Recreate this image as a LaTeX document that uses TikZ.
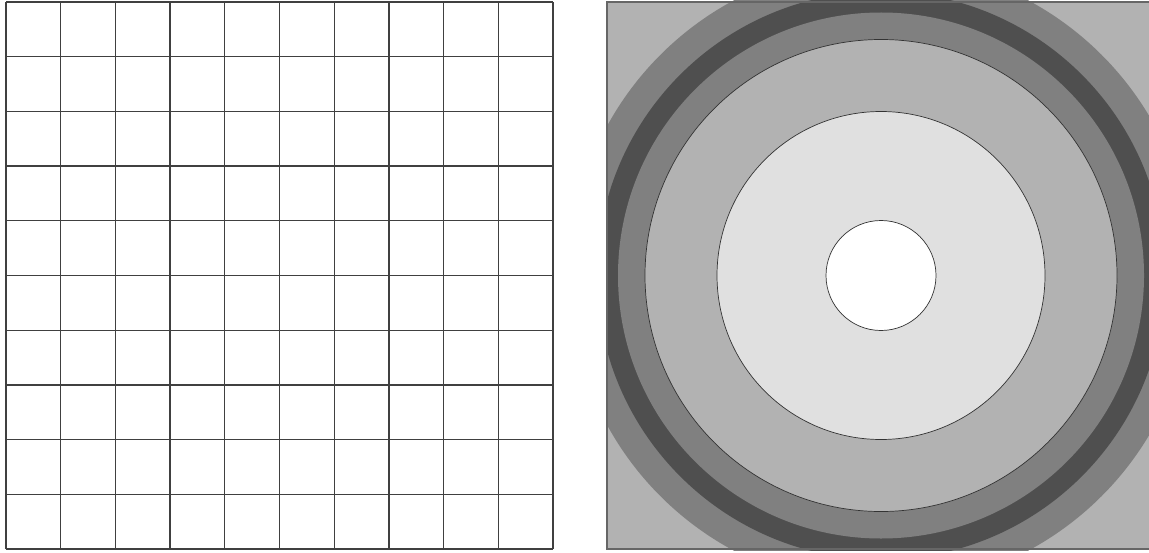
\documentclass[tikz,border=0pt]{standalone}
\begin{document}
\begin{tikzpicture}[x=0.02cm,y=0.02cm,
        gridline/.style={draw=black!75,line width=0.7pt},
        ringline/.style={draw=black!80,line width=0.4pt}]
        \useasboundingbox (0,0) rectangle (1149,552);
        % mesh
        \foreach \i in {0,...,10}{
            \draw[gridline] (6+54.7*\i,3) -- (6+54.7*\i,550);
            \draw[gridline] (6,3+54.7*\i) -- (553,3+54.7*\i);
        }
        % field
        \begin{scope}
            \clip (606,2) rectangle (1149,551);
            \fill[black!30] (607,3) rectangle (1154,550);
            \fill[black!50] (881,276.5) circle (312);
            \fill[black!69] (881,276.5) circle (284);
            \fill[black!50] (881,276.5) circle (263);
            \filldraw[fill=black!30,ringline] (881,276.5) circle (236);
            \filldraw[fill=black!12,ringline] (881,276.5) circle (164);
            \filldraw[fill=white,ringline] (881,276.5) circle (55);
            \draw[black!60,line width=0.7pt] (607,3) rectangle (1154,550);
        \end{scope}
    \end{tikzpicture}
\end{document}
